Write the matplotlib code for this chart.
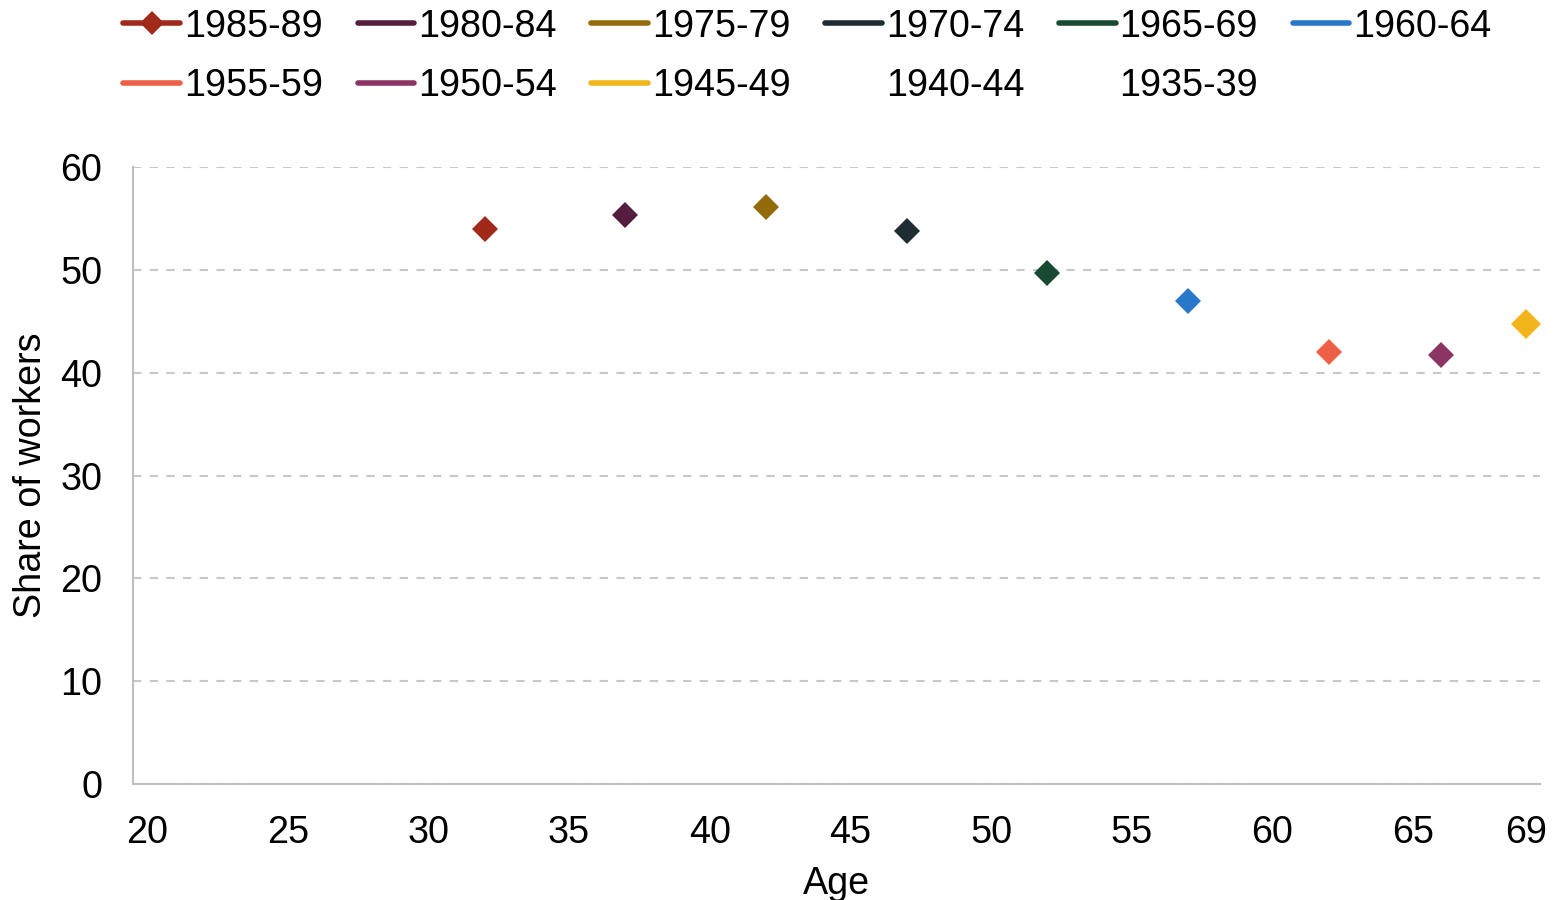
import matplotlib
matplotlib.use("Agg")
import matplotlib.pyplot as plt
from matplotlib.lines import Line2D

plt.rcParams['font.family'] = ['Liberation Sans', 'DejaVu Sans']

cohorts = ["1985-89", "1980-84", "1975-79", "1970-74", "1965-69", "1960-64",
           "1955-59", "1950-54", "1945-49", "1940-44", "1935-39"]
colors = ["#A0291A", "#561E3E", "#946B0A", "#1F2C33", "#184A33", "#2878CA",
          "#EE6046", "#8C3463", "#F2B51C", "none", "none"]
ages = [32, 37, 42, 47, 52, 57, 62, 66, 69, None, None]
shares = [54.0, 55.3, 56.1, 53.8, 49.7, 47.0, 42.0, 41.7, 44.7, None, None]
marker_sizes = [13.5, 13.5, 13.5, 13.5, 13.5, 13.5, 13.5, 13.5, 15, 13.5, 13.5]

xticks = [20, 25, 30, 35, 40, 45, 50, 55, 60, 65, 69]
yticks = [0, 10, 20, 30, 40, 50, 60]

fig = plt.figure(figsize=(15.57, 9.0), dpi=100)
ax = fig.add_axes([0.0854, 0.1289, 0.9036, 0.6855])

FS = 27.2
for c, col, a, s, ms in zip(cohorts, colors, ages, shares, marker_sizes):
    if a is not None:
        ax.plot([a], [s], linestyle='none', marker='D', markersize=ms,
                color=col, markeredgewidth=0, zorder=3)

ax.set_xlim(19.5, 69.5)
ax.set_ylim(0, 60)
ax.set_xticks(xticks)
ax.set_yticks(yticks)
ax.tick_params(axis='both', length=0, labelsize=FS, colors='black')
ax.tick_params(axis='x', pad=22)
ax.tick_params(axis='y', pad=22)
ax.yaxis.grid(True, linestyle=(0, (4, 4)), color='#C8C8C8', linewidth=1.5)
ax.set_axisbelow(True)
for sp in ['top', 'right']:
    ax.spines[sp].set_visible(False)
for sp in ['left', 'bottom']:
    ax.spines[sp].set_color('#BFBFBF')
    ax.spines[sp].set_linewidth(1.5)

ax.set_xlabel("Age", fontsize=FS, labelpad=11)
ax.set_ylabel("Share of workers", fontsize=FS, labelpad=8)

handles = []
for i, (c, col) in enumerate(zip(cohorts, colors)):
    if i == 0:
        h = Line2D([], [], color=col, linewidth=4, marker='D', markersize=12,
                   markeredgewidth=0, solid_capstyle='round')
    else:
        h = Line2D([], [], color=col, linewidth=4, solid_capstyle='round')
    handles.append(h)

# reorder so that the legend fills row by row
row1 = list(range(6))
row2 = list(range(6, 11))
order = []
for k in range(6):
    order.append(row1[k])
    if k < len(row2):
        order.append(row2[k])
leg = fig.legend([handles[i] for i in order], [cohorts[i] for i in order],
                 ncol=6, loc='upper left', bbox_to_anchor=(0.072, 1.003),
                 frameon=False, fontsize=FS, handlelength=1.5,
                 handletextpad=0.1, columnspacing=0.92, labelspacing=0.62,
                 borderaxespad=0, borderpad=0.3)

fig.savefig("out.png", dpi=100)
